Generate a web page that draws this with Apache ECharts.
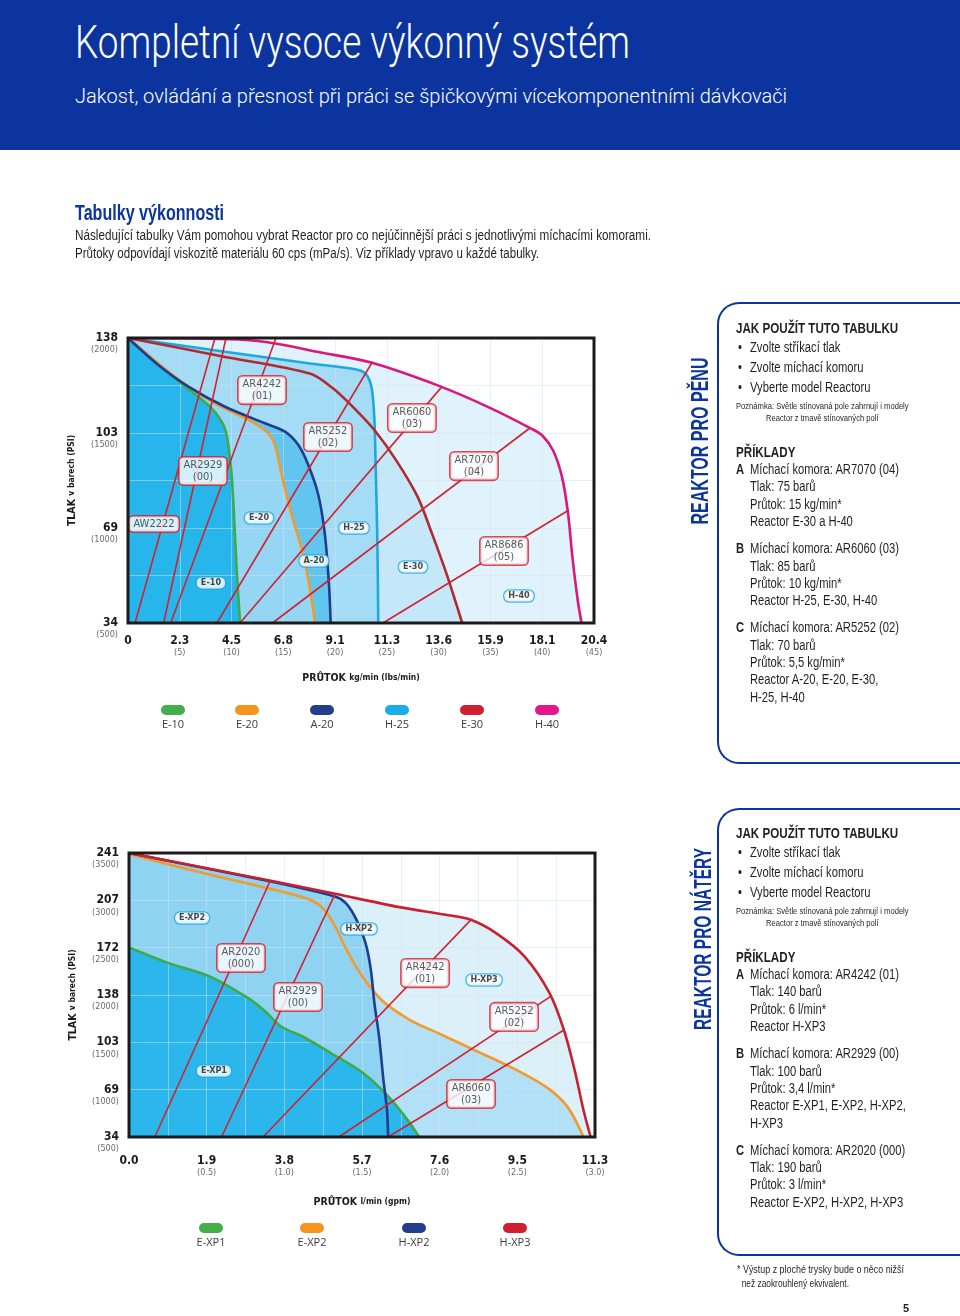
<!DOCTYPE html>
<html lang="cs">
<head>
<meta charset="utf-8">
<title>Tabulky výkonnosti</title>
<script src="https://cdn.jsdelivr.net/npm/echarts@6/dist/echarts.min.js"></script>
<style>
  html, body { margin: 0; padding: 0; background: #fff; }
  body {
    width: 960px; height: 1316px; position: relative; overflow: hidden;
    font-family: "Liberation Sans", Arial, sans-serif;
    color: #231f20;
  }
  #chart { position: absolute; left: 0; top: 0; width: 960px; height: 1316px; }
  .fit { display: inline-block; white-space: nowrap; transform-origin: left center; }
  .header { position: absolute; left: 0; top: 0; width: 960px; height: 150px; background: #0b349f; color: #fff; }
  .header .t1 { position: absolute; left: 75px; top: 14px; font-family: Roboto, "Liberation Sans", sans-serif; font-weight: 300; font-size: 46px; line-height: 56px; }
  .header .t2 { position: absolute; left: 75px; top: 83px; font-family: Roboto, "Liberation Sans", sans-serif; font-weight: 300; font-size: 21px; line-height: 26px; }
  .intro { position: absolute; left: 75px; top: 200px; }
  .intro .h2 { font-size: 22px; line-height: 26px; color: #0b349f; font-weight: bold; }
  .intro .p { display: block; }
  .intro .p span { font-size: 14px; line-height: 18px; }
  .panel { position: absolute; left: 717px; width: 260px; border: 2px solid #0b349f; border-right: none; border-radius: 22px 0 0 22px; box-sizing: border-box; }
  .vtitle { position: absolute; white-space: nowrap; color: #0b349f; font-weight: bold; font-size: 24px; line-height: 28px; }
  .ptext { position: absolute; left: 736px; font-size: 14px; white-space: nowrap; transform-origin: left top; --k: 1; }
  .ptext .hd { font-weight: bold; line-height: 18px; font-size: 14.5px; }
  .ptext ul { list-style: none; margin: 0; padding: 0; }
  .ptext li { line-height: 20px; padding-left: calc(14px / var(--k)); position: relative; }
  .ptext li::before { content: "•"; position: absolute; left: calc(2px / var(--k)); }
  .ptext .note { display: inline-block; margin-top: 3px; font-size: 9.5px; line-height: 12px; text-align: center; }
  .ptext .hd2 { margin-top: 19px; font-weight: bold; line-height: 18px; font-size: 14.5px; }
  .ptext .ex { position: relative; padding-left: calc(14px / var(--k)); line-height: 17.4px; }
  .ptext .ex + .ex { margin-top: 9.5px; }
  .ptext .ex b { position: absolute; left: 0; top: 0; }
  .foot { position: absolute; left: 737px; top: 1262px; font-size: 11px; line-height: 14px; }
  .pnum { position: absolute; left: 903px; top: 1302px; font-size: 11px; font-weight: bold; }
</style>
</head>
<body>
<div id="chart"></div>

<div class="header">
  <span class="fit t1" data-w="555">Kompletní vysoce výkonný systém</span>
  <span class="fit t2" data-w="712">Jakost, ovládání a přesnost při práci se špičkovými vícekomponentními dávkovači</span>
</div>

<div class="intro">
  <span class="fit h2" data-w="149">Tabulky výkonnosti</span>
  <div class="p"><span class="fit" data-w="576">Následující tabulky Vám pomohou vybrat Reactor pro co nejúčinnější práci s jednotlivými míchacími komorami.</span></div>
  <div class="p"><span class="fit" data-w="464">Průtoky odpovídají viskozitě materiálu 60 cps (mPa/s). Viz příklady vpravo u každé tabulky.</span></div>
</div>

<div class="panel" style="top:302px; height:462px;"></div>
<div class="vtitle" data-len="167" style="left:700px; top:441px;">REAKTOR PRO PĚNU</div>
<div class="ptext" style="top:319px;">
  <div class="hd">JAK POUŽÍT TUTO TABULKU</div>
  <ul>
    <li>Zvolte stříkací tlak</li>
    <li>Zvolte míchací komoru</li>
    <li>Vyberte model Reactoru</li>
  </ul>
  <div class="note">Poznámka: Světle stínovaná pole zahrnují i modely<br>Reactor z tmavě stínovaných polí</div>
  <div class="hd2">PŘÍKLADY</div>
  <div class="ex"><b>A</b><span class="ref">Míchací komora: AR7070 (04)</span><br>Tlak: 75 barů<br>Průtok: 15 kg/min*<br>Reactor E-30 a H-40</div>
  <div class="ex"><b>B</b>Míchací komora: AR6060 (03)<br>Tlak: 85 barů<br>Průtok: 10 kg/min*<br>Reactor H-25, E-30, H-40</div>
  <div class="ex"><b>C</b>Míchací komora: AR5252 (02)<br>Tlak: 70 barů<br>Průtok: 5,5 kg/min*<br>Reactor A-20, E-20, E-30,<br>H-25, H-40</div>
</div>

<div class="panel" style="top:808px; height:448px;"></div>
<div class="vtitle" data-len="182" style="left:703px; top:939px;">REAKTOR PRO NÁTĚRY</div>
<div class="ptext" style="top:824px;">
  <div class="hd">JAK POUŽÍT TUTO TABULKU</div>
  <ul>
    <li>Zvolte stříkací tlak</li>
    <li>Zvolte míchací komoru</li>
    <li>Vyberte model Reactoru</li>
  </ul>
  <div class="note">Poznámka: Světle stínovaná pole zahrnují i modely<br>Reactor z tmavě stínovaných polí</div>
  <div class="hd2">PŘÍKLADY</div>
  <div class="ex"><b>A</b><span class="ref">Míchací komora: AR4242 (01)</span><br>Tlak: 140 barů<br>Průtok: 6 l/min*<br>Reactor H-XP3</div>
  <div class="ex"><b>B</b>Míchací komora: AR2929 (00)<br>Tlak: 100 barů<br>Průtok: 3,4 l/min*<br>Reactor E-XP1, E-XP2, H-XP2,<br>H-XP3</div>
  <div class="ex"><b>C</b>Míchací komora: AR2020 (000)<br>Tlak: 190 barů<br>Průtok: 3 l/min*<br>Reactor E-XP2, H-XP2, H-XP3</div>
</div>

<div class="foot"><span class="fit" data-w="167">* Výstup z ploché trysky bude o něco nižší</span><br><span class="fit" data-w="112">&nbsp;&nbsp;než zaokrouhlený ekvivalent.</span></div>
<div class="pnum">5</div>

<script>
// ---- chart 1: pěna (x in lbs/min, y in psi) ----
const foamXLbs = [0, 5, 10, 15, 20, 25, 30, 35, 40, 45];
const foamXKg = ['0', '2.3', '4.5', '6.8', '9.1', '11.3', '13.6', '15.9', '18.1', '20.4'];
const foamYPsi = [500, 1000, 1500, 2000];
const foamYBar = ['34', '69', '103', '138'];

const foamNames = ['E-10', 'E-20', 'A-20', 'H-25', 'E-30', 'H-40'];
const foamColors = ['#3eaa48', '#f39a2b', '#1f3c8e', '#1ba9df', '#b02a30', '#dc167f'];
const foamLegendColors = ['#45ae4b', '#f7941e', '#243d8f', '#1aaee8', '#d0202f', '#e5168b'];
const foamFills = ['#27b6ec', '#94d6f4', '#62c5ef', '#a4dbf5', '#c4e8f9', '#e0f2fb'];

const foamE10 = [[0, 2000], [4.54, 1788], [7.76, 1647], [9.05, 1560], [9.53, 1490], [9.95, 1314], [10.17, 1138], [10.49, 788], [10.82, 500]];
const foamE20 = [[0, 2000], [4.54, 1796], [8.08, 1665], [11.94, 1560], [13.55, 1498], [14.19, 1437], [14.84, 1279], [15.81, 1068], [17.09, 823], [18.06, 500]];
const foamA20 = [[0, 2000], [2.93, 1858], [5.83, 1744], [9.37, 1638], [13.23, 1551], [15.16, 1507], [16.45, 1437], [17.41, 1332], [18.38, 1174], [19.02, 963], [19.41, 700], [19.57, 500]];
const foamH25 = [[0, 2000], [9.37, 1928], [17.41, 1867], [22.24, 1832], [23.05, 1805], [23.53, 1735], [23.79, 1577], [23.92, 1314], [24.07, 963], [24.17, 500]];
const foamE30 = [[0, 2000], [9.02, 1904], [17.63, 1812], [19.7, 1739], [21.76, 1635], [23.83, 1513], [25.9, 1356], [27.96, 1165], [29.34, 973], [30.72, 765], [31.75, 591], [32.27, 500]];
const foamH40 = [[0, 2000], [10.7, 1992], [14.1, 1972], [18.5, 1925], [23.4, 1872], [30.03, 1748], [34.85, 1635], [38.98, 1522], [40.01, 1487], [41.05, 1408], [41.91, 1269], [42.49, 1078], [42.94, 834], [43.46, 608], [43.8, 500]];
const foamCurves = [foamE10, foamE20, foamA20, foamH25, foamE30, foamH40];

const foamChambers = ['AW2222', 'AR2929', 'AR4242', 'AR5252', 'AR6060', 'AR7070', 'AR8686'];
const foamChamberCodes = ['', '(00)', '(01)', '(02)', '(03)', '(04)', '(05)'];
const foamChamberLines = [
  [[0.68, 500], [8.40, 2000]],
  [[3.44, 500], [9.46, 2000]],
  [[4.12, 500], [14.29, 2000]],
  [[8.59, 500], [23.61, 1875]],
  [[10.82, 500], [30.32, 1744]],
  [[13.95, 500], [38.78, 1525]],
  [[24.62, 500], [42.58, 1095]]
];
const foamChamberTags = [[2.51, 1021], [7.24, 1300], [12.94, 1726], [19.31, 1479], [27.42, 1579], [33.41, 1326], [36.31, 879]];
const foamReactorTags = [['E-10', 8.01, 711], ['E-20', 12.65, 1053], ['A-20', 17.96, 826], ['H-25', 21.82, 1000], ['E-30', 27.52, 795], ['H-40', 37.76, 642]];

// ---- chart 2: nátěry (x in gpm, y in psi) ----
const coatXGpm = [0, 0.5, 1.0, 1.5, 2.0, 2.5, 3.0];
const coatXL = ['0.0', '1.9', '3.8', '5.7', '7.6', '9.5', '11.3'];
const coatXGpmText = ['', '(0.5)', '(1.0)', '(1.5)', '(2.0)', '(2.5)', '(3.0)'];
const coatYPsi = [500, 1000, 1500, 2000, 2500, 3000, 3500];
const coatYBar = ['34', '69', '103', '138', '172', '207', '241'];

const coatNames = ['E-XP1', 'E-XP2', 'H-XP2', 'H-XP3'];
const coatColors = ['#3eaa48', '#f39a2b', '#1f3c8e', '#c8202f'];
const coatLegendColors = ['#45ae4b', '#f7941e', '#243d8f', '#d0202f'];
const coatFills = ['#2bb7ec', '#b2e0f6', '#8fd3f3', '#dcf0fa'];

const coatEXP1 = [[0, 2501], [0.246, 2342], [0.522, 2194], [0.752, 1982], [0.867, 1841], [0.982, 1665], [1.12, 1559], [1.304, 1382], [1.511, 1171], [1.672, 924], [1.787, 694], [1.868, 500]];
const coatEXP2 = [[0, 3489], [0.476, 3288], [0.89, 3129], [1.166, 3006], [1.258, 2900], [1.327, 2724], [1.396, 2494], [1.488, 2229], [1.626, 1947], [1.81, 1735], [1.994, 1594], [2.224, 1418], [2.455, 1241], [2.685, 1029], [2.823, 818], [2.926, 500]];
const coatHXP2 = [[0, 3500], [0.913, 3200], [1.327, 3041], [1.396, 2971], [1.465, 2794], [1.523, 2547], [1.557, 2265], [1.58, 1912], [1.61, 1559], [1.638, 1100], [1.661, 783], [1.668, 500]];
const coatHXP3 = [[0, 3500], [0.913, 3207], [1.327, 3069], [1.741, 2928], [2.04, 2847], [2.201, 2794], [2.363, 2653], [2.547, 2406], [2.708, 2018], [2.8, 1630], [2.869, 1206], [2.926, 783], [2.972, 500]];
const coatCurves = [coatEXP1, coatEXP2, coatHXP2, coatHXP3];
const coatFillOrder = [3, 1, 2, 0];

const coatChambers = ['AR2020', 'AR2929', 'AR4242', 'AR5252', 'AR6060'];
const coatChamberCodes = ['(000)', '(00)', '(01)', '(02)', '(03)'];
const coatChamberLines = [
  [[0.166, 500], [0.909, 3207]],
  [[0.596, 500], [1.327, 3069]],
  [[0.863, 500], [2.201, 2794]],
  [[1.35, 500], [2.72, 1990]],
  [[1.668, 500], [2.8, 1630]]
];
const coatChamberTags = [[0.721, 2391], [1.088, 1979], [1.906, 2232], [2.479, 1768], [2.202, 954]];
const coatReactorTags = [['E-XP2', 0.406, 2813], ['H-XP2', 1.481, 2697], ['H-XP3', 2.286, 2158], ['E-XP1', 0.547, 1197]];

const foamLegendX = [173, 247, 322, 397, 472, 547];
const coatLegendX = [211, 312, 414, 515];

const NARROW = '"DejaVu Sans Condensed", "Liberation Sans Narrow", sans-serif';
const chamberRed = '#cf2331';
const gridColor = 'rgba(212,226,234,0.5)';

// squeeze page text to the widths of the condensed original
document.querySelectorAll('.fit').forEach(el => {
  const w = el.getBoundingClientRect().width;
  el.style.transform = 'scaleX(' + (Number(el.dataset.w) / w) + ')';
});
document.querySelectorAll('.ptext').forEach(el => {
  const ref = el.querySelector('.ref');
  const k = 149 / ref.getBoundingClientRect().width;
  el.style.setProperty('--k', k);
  el.style.transform = 'scaleX(' + k + ')';
});
document.querySelectorAll('.vtitle').forEach(el => {
  const w = el.getBoundingClientRect().width;
  el.style.transform = 'translate(-50%, -50%) rotate(-90deg) scaleX(' + (Number(el.dataset.len) / w) + ')';
});

function near(arr, v) {
  return arr.findIndex(a => Math.abs(a - v) < 1e-6);
}

const tickRich = {
  p: { fontSize: 1, lineHeight: 12 },
  a: { fontFamily: NARROW, fontWeight: 'bold', fontSize: 12, color: '#1a1a1a', lineHeight: 12 },
  b: { fontFamily: NARROW, fontSize: 9, color: '#6b6b6b', lineHeight: 12 }
};
const nameRich = {
  a: { fontFamily: NARROW, fontWeight: 'bold', fontSize: 10.5, color: '#1a1a1a' },
  b: { fontFamily: NARROW, fontWeight: 'bold', fontSize: 8.5, color: '#1a1a1a' }
};

function makeX(gridIndex, min, max, interval, formatter, name, gap, margin) {
  return {
    type: 'value', gridIndex, min, max, interval, z: 2,
    axisLine: { show: false }, axisTick: { show: false },
    splitLine: { show: true, lineStyle: { color: gridColor, width: 1 } },
    axisLabel: { formatter, rich: tickRich, margin, verticalAlign: 'top' },
    name, nameLocation: 'middle', nameGap: gap, nameTextStyle: { rich: nameRich }
  };
}
function makeY(gridIndex, min, max, interval, formatter) {
  return {
    type: 'value', gridIndex, min, max, interval, z: 2,
    axisLine: { show: false }, axisTick: { show: false },
    splitLine: { show: true, lineStyle: { color: gridColor, width: 1 } },
    axisLabel: { formatter, rich: tickRich, margin: 10, align: 'right' },
    name: '{a|TLAK} {b|v barech (PSI)}', nameLocation: 'middle', nameRotate: 90, nameGap: 50,
    nameTextStyle: { rich: nameRich }
  };
}

const series = [];

function addChart(idx, curves, names, colors, fills, fillOrder, chambers, codes, lines, tags, reactorTags) {
  fillOrder.forEach(i => {
    series.push({
      type: 'line', xAxisIndex: idx, yAxisIndex: idx, z: 1, silent: true,
      data: curves[i], smooth: 0.3, showSymbol: false,
      lineStyle: { width: 0 },
      areaStyle: { color: fills[i], opacity: 1, origin: 'start' }
    });
  });
  curves.forEach((c, i) => {
    series.push({
      name: names[i], type: 'line', xAxisIndex: idx, yAxisIndex: idx, z: 3,
      data: c, smooth: 0.3, showSymbol: false,
      lineStyle: { width: 2.6, color: colors[i] }
    });
  });
  lines.forEach(l => {
    series.push({
      type: 'line', xAxisIndex: idx, yAxisIndex: idx, z: 4, silent: true,
      data: l, showSymbol: false,
      lineStyle: { width: 1.6, color: chamberRed }
    });
  });
  series.push({
    type: 'scatter', xAxisIndex: idx, yAxisIndex: idx, z: 5, symbolSize: 0,
    data: tags.map((t, i) => ({ value: t, name: chambers[i] + (codes[i] ? '\n' + codes[i] : '') })),
    label: {
      show: true, position: 'inside', formatter: p => p.name,
      fontFamily: NARROW, fontSize: 11, lineHeight: 12, color: '#333',
      backgroundColor: '#fff', borderColor: chamberRed, borderWidth: 1.6, borderRadius: 4,
      padding: [2, 4, 1, 4], align: 'center'
    }
  });
  series.push({
    type: 'scatter', xAxisIndex: idx, yAxisIndex: idx, z: 5, symbolSize: 0,
    data: reactorTags.map(t => ({ value: [t[1], t[2]], name: t[0] })),
    label: {
      show: true, position: 'inside', formatter: p => p.name,
      fontFamily: NARROW, fontWeight: 'bold', fontSize: 9, lineHeight: 10, color: '#1a1a1a',
      backgroundColor: '#fff', borderColor: '#2ba6dc', borderWidth: 1.3, borderRadius: 5,
      padding: [1, 4, 0, 4]
    }
  });
}

addChart(0, foamCurves, foamNames, foamColors, foamFills, [5, 4, 3, 2, 1, 0],
  foamChambers, foamChamberCodes, foamChamberLines, foamChamberTags, foamReactorTags);
addChart(1, coatCurves, coatNames, coatColors, coatFills, coatFillOrder,
  coatChambers, coatChamberCodes, coatChamberLines, coatChamberTags, coatReactorTags);

function legendGraphics(names, colors, xs, y) {
  const out = [];
  names.forEach((n, i) => {
    out.push({ type: 'rect', shape: { x: xs[i] - 12, y: y - 5, width: 24, height: 10, r: 5 }, style: { fill: colors[i] } });
    out.push({ type: 'text', x: xs[i], y: y + 15, style: { text: n, fill: '#3a3a3a', fontSize: 11, fontFamily: '"Open Sans", sans-serif', align: 'center', verticalAlign: 'middle' } });
  });
  return out;
}

const option = {
  animation: false,
  grid: [
    { left: 128, top: 338, width: 466, height: 285, show: true, backgroundColor: 'transparent', borderColor: '#1b1b1b', borderWidth: 3, z: 6 },
    { left: 129, top: 853, width: 466, height: 284, show: true, backgroundColor: 'transparent', borderColor: '#1b1b1b', borderWidth: 3, z: 6 }
  ],
  xAxis: [
    makeX(0, 0, 45, 5, v => {
      const i = near(foamXLbs, v);
      if (i < 0) return '';
      return i === 0 ? '{a|' + foamXKg[i] + '}' : '{a|' + foamXKg[i] + '}\n{b|(' + foamXLbs[i] + ')}';
    }, '{a|PRŮTOK} {b|kg/min (lbs/min)}', 49, 12),
    makeX(1, 0, 3, 0.25, v => {
      const i = near(coatXGpm, v);
      if (i < 0) return '';
      return i === 0 ? '{a|' + coatXL[i] + '}' : '{a|' + coatXL[i] + '}\n{b|' + coatXGpmText[i] + '}';
    }, '{a|PRŮTOK} {b|l/min (gpm)}', 59, 18)
  ],
  yAxis: [
    makeY(0, 500, 2000, 250, v => {
      const i = near(foamYPsi, v);
      if (i < 0) return '';
      return '{p| }\n{a|' + foamYBar[i] + '}\n{b|(' + foamYPsi[i] + ')}';
    }),
    makeY(1, 500, 3500, 500, v => {
      const i = near(coatYPsi, v);
      if (i < 0) return '';
      return '{p| }\n{a|' + coatYBar[i] + '}\n{b|(' + coatYPsi[i] + ')}';
    })
  ],
  series,
  graphic: legendGraphics(foamNames, foamLegendColors, foamLegendX, 710)
    .concat(legendGraphics(coatNames, coatLegendColors, coatLegendX, 1228))
};

const chart = echarts.init(document.getElementById('chart'), null, { renderer: 'canvas' });
chart.setOption(option);
</script>
</body>
</html>
